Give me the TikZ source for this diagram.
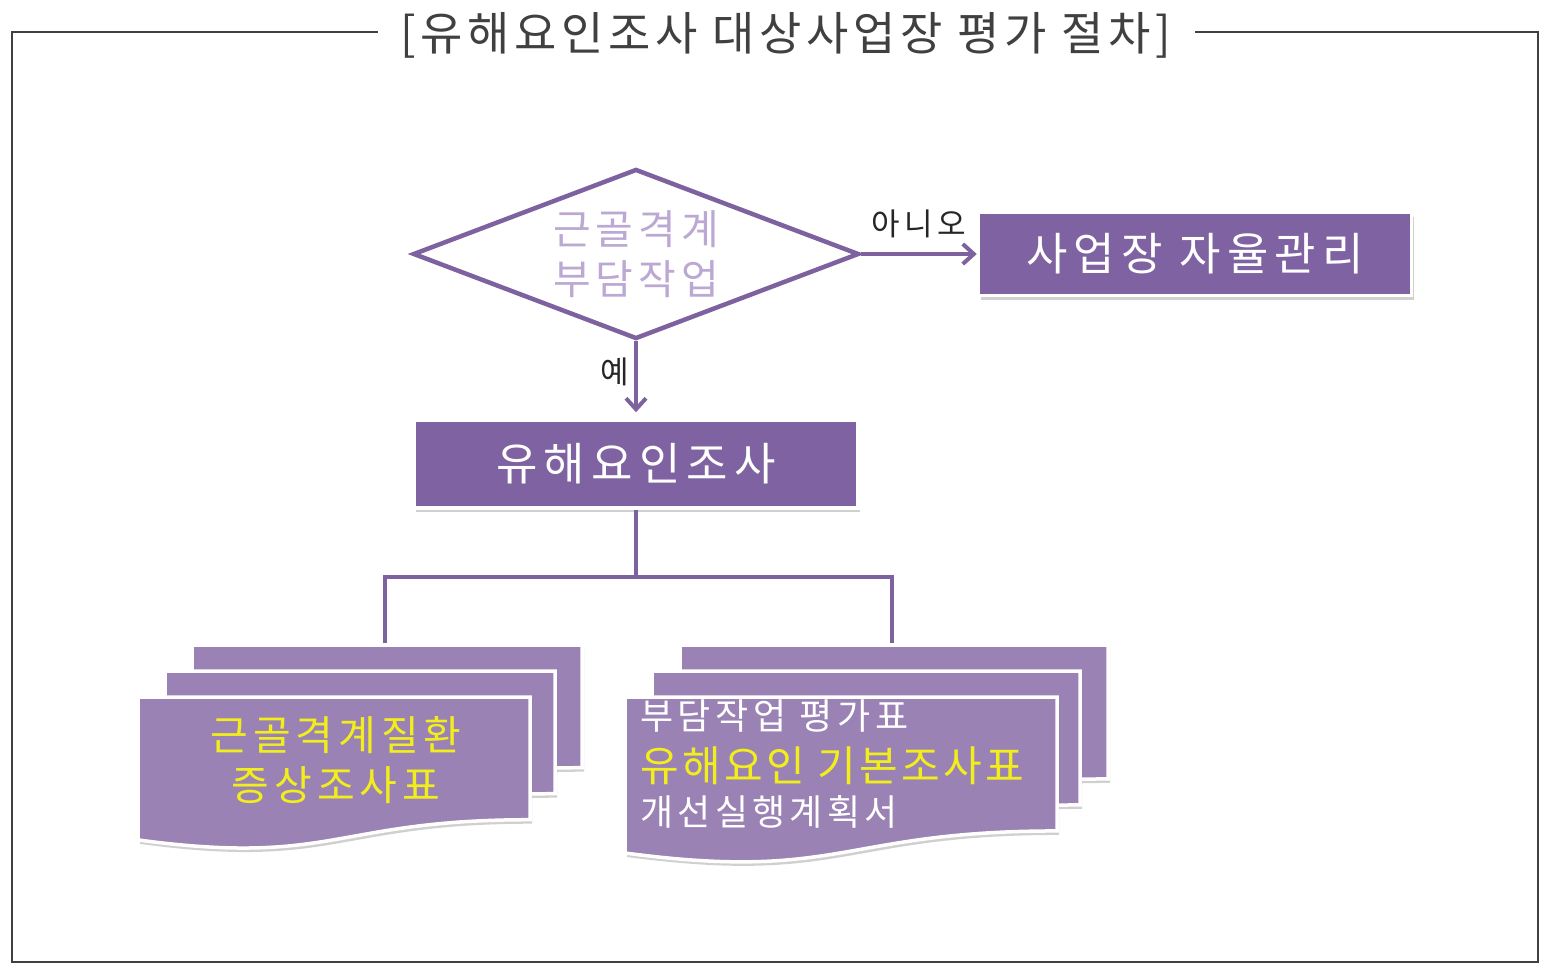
\documentclass[tikz,border=0pt]{standalone}
\usepackage{fontspec}
\setmainfont{Noto Sans CJK KR}
\usetikzlibrary{shapes.geometric,arrows.meta,shadows}
\definecolor{boxpurple}{HTML}{7F62A1}
\definecolor{docpurple}{HTML}{9A82B4}
\definecolor{linepurple}{HTML}{7E62A0}
\definecolor{diatext}{HTML}{BCA9D3}
\definecolor{ylw}{HTML}{F2EE1C}
\definecolor{framegray}{HTML}{404040}
\newcommand\ls[1]{\addfontfeatures{LetterSpace=#1}}
\newcommand\mydocshape[4]{%
  \pgfmathsetmacro\dxr{#1+#3}%
  \pgfmathsetmacro\dxm{#1+#3/2}%
  \pgfmathsetmacro\dyr{#2+0.802*#4}%
  \pgfmathsetmacro\dyl{#2+0.934*#4}%
  \pgfmathsetmacro\dyc{#2+1.107*#4}%
  \draw[docstyle] (#1,#2) -- (\dxr,#2) -- (\dxr,\dyr) .. controls (\dxm,\dyr) and (\dxm,\dyc) .. (#1,\dyl) -- cycle;}
\begin{document}
\begin{tikzpicture}[x=1pt,y=-1pt,
  framestyle/.style={draw=framegray,line width=2.5pt},
  conn/.style={draw=linepurple,line width=4pt},
  arr/.style={conn,-{Straight Barb[length=11pt,width=20pt,line width=4pt]}},
  mainbox/.style={rectangle,fill=boxpurple,draw=white,line width=3.5pt,text=white,inner sep=0pt,
    font=\fontsize{45}{52}\selectfont\ls{14},
    drop shadow={shadow xshift=2pt,shadow yshift=-4pt,opacity=0.3,fill=black!60}},
  docstyle/.style={fill=docpurple,draw=white,line width=3.5pt,
    drop shadow={shadow xshift=2pt,shadow yshift=-4pt,opacity=0.3,fill=black!60}},
  lbl/.style={text=black!85,font=\fontsize{31}{36}\selectfont\ls{15},inner sep=2pt}
]
\useasboundingbox[fill=white] (0,0) rectangle (1550,969);

% frame and title
\node[text=framegray,font=\fontsize{46}{52}\selectfont\ls{10},inner sep=0pt] (title) at (786,35) {[유해요인조사 대상사업장 평가 절차]};
\draw[framestyle] (378,32) -- (12,32) -- (12,962) -- (1538,962) -- (1538,32) -- (1195,32);

% decision
\node[diamond,aspect=2.62,draw=linepurple,line width=4.5pt,inner sep=0pt,
  minimum width=446pt,minimum height=170pt,text=diatext,align=center,
  font=\fontsize{41}{50}\selectfont\ls{12}] (dia) at (636,254) {근골격계\\부담작업};

\node[mainbox,minimum width=433pt,minimum height=83pt] (auto) at (1195,254) {사업장 자율관리};
\node[mainbox,minimum width=444pt,minimum height=88pt] (ind) at (636,464) {유해요인조사};

\draw[arr] (dia.east) -- (dia.east -| auto.west) node[lbl,midway,above=12pt] (no) {아니오};
\draw[arr,shorten >=6pt] (dia.south) -- (ind.north) node[lbl,pos=0.4,left=3pt] (yes) {예};

% documents
\mydocshape{192}{645}{390}{153}
\mydocshape{165}{671}{390}{153}
\mydocshape{138}{697}{392}{153}
\mydocshape{680}{645}{428}{167}
\mydocshape{652}{671}{428}{167}
\mydocshape{625}{697}{432}{167}

\coordinate (Ltop) at (385,643);
\coordinate (Rtop) at (892,643);
\draw[conn] (ind.south) -- ++(0,67) coordinate (J);
\draw[conn] (Ltop) |- (J) -| (Rtop);

\node[text=ylw,align=center,font=\fontsize{41}{50}\selectfont\ls{12},inner sep=0pt] (ltxt) at (336,760) {근골격계질환\\증상조사표};

\node[anchor=west,text=white,font=\fontsize{36}{40}\selectfont\ls{13},inner sep=0pt] (r1) at (640,716) {부담작업 평가표};
\node[anchor=west,text=ylw,font=\fontsize{42}{46}\selectfont\ls{8},inner sep=0pt] (r2) at (640,766) {유해요인 기본조사표};
\node[anchor=west,text=white,font=\fontsize{36}{40}\selectfont\ls{12},inner sep=0pt] (r3) at (640,812) {개선실행계획서};
\end{tikzpicture}
\end{document}
